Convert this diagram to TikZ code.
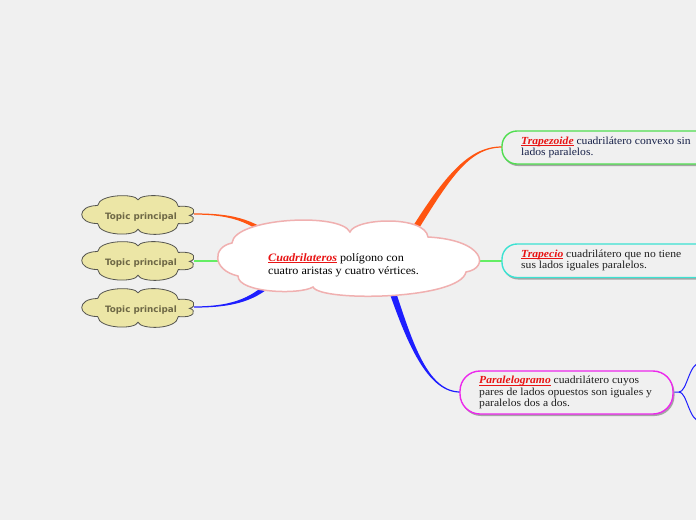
\documentclass[tikz,border=0pt]{standalone}
\usepackage{fontspec}
\setmainfont[FakeStretch=1.075]{Liberation Serif}
\newfontfamily\topicfont{DejaVu Sans}
\usetikzlibrary{calc}
\definecolor{bg}{RGB}{240,240,240}
\definecolor{cloudline}{RGB}{240,176,176}
\definecolor{topicfill}{RGB}{236,230,166}
\definecolor{topicline}{RGB}{85,85,80}
\definecolor{topictxt}{RGB}{110,104,70}
\definecolor{corange}{RGB}{255,85,17}
\definecolor{cgreen}{RGB}{100,238,100}
\definecolor{bgreen}{RGB}{80,222,80}
\definecolor{bcyan}{RGB}{60,226,210}
\definecolor{bmag}{RGB}{236,40,236}
\definecolor{cblue}{RGB}{30,30,255}
\definecolor{lred}{RGB}{232,20,20}
\definecolor{navy}{RGB}{22,32,72}
\definecolor{shadowc}{RGB}{165,165,165}
\newcommand\lbl[1]{{\color{lred}\bfseries\itshape\setbox0\hbox{#1}\rlap{\rule[-1.4pt]{\wd0}{0.7pt}}\box0}}
% tapered connector: colour, P0 (thin), C1, C2, P3 (thick), half width at P0, half width at P3
\newcommand\taper[7]{%
  \path ($(#2)!#6!90:(#3)$) coordinate (ta) ($(#2)!#6!-90:(#3)$) coordinate (tb)
        ($(#5)!#7!-90:(#4)$) coordinate (tc) ($(#5)!#7!90:(#4)$) coordinate (td);
  \fill[#1] (ta) .. controls ($(#3)+(ta)-(#2)$) and ($(#4)+(tc)-(#5)$) .. (tc)
     -- (td) .. controls ($(#4)+(td)-(#5)$) and ($(#3)+(tb)-(#2)$) .. (tb) -- cycle;}
\tikzset{
  topicstyle/.style={fill=topicfill,draw=topicline,line width=0.8pt},
  topictext/.style={font=\topicfont\bfseries\fontsize{8.8}{10}\selectfont,text=topictxt,inner sep=0pt},
  boxtext/.style={align=left,anchor=west,inner sep=0pt,font=\fontsize{10.8}{11.3}\selectfont},
  boxline/.style={fill=bg,line width=1.4pt},
}
\newcommand\topiccloud[2]{%
  \begin{scope}[shift={(#1,#2)},xscale=56,yscale=19]
  \draw[topicstyle] (-0.72,-0.5) .. controls (-0.70,-1.1) and (-0.05,-1.15) .. (0,-0.8)
    .. controls (0.05,-1.15) and (0.70,-1.12) .. (0.72,-0.45)
    .. controls (1.05,-0.55) and (1.05,-0.05) .. (0.92,0.02)
    .. controls (1.05,0.1) and (1.02,0.55) .. (0.72,0.45)
    .. controls (0.70,1.15) and (0.05,1.15) .. (0,0.75)
    .. controls (-0.05,1.15) and (-0.7,1.1) .. (-0.72,0.45)
    .. controls (-1.1,0.45) and (-1.1,-0.5) .. cycle;
  \end{scope}}
\begin{document}
\begin{tikzpicture}[x=1pt,y=-1pt]
\fill[bg] (0,0) rectangle (696,520);
\useasboundingbox (0,0) rectangle (696,520);
\clip (0,0) rectangle (696,520);
% coordinates
\coordinate (t1e) at (194,214);
\coordinate (t2e) at (194,261);
\coordinate (t3e) at (194,307);
\coordinate (cL1) at (282,246);
\coordinate (cL2) at (226,261);
\coordinate (cL3) at (274,280);
\coordinate (cR1) at (405,245);
\coordinate (cR2) at (468,261);
\coordinate (cR3) at (389,282);
\coordinate (trzW) at (502,147);
\coordinate (trcW) at (502,261);
\coordinate (parW) at (460,392);
\coordinate (parE) at (673,392);
\coordinate (brU) at (700,363);
\coordinate (brD) at (700,421);
% connectors
\taper{corange}{t1e}{236,214}{256,222}{cL1}{0.6pt}{2.6pt}
\draw[cgreen,line width=1.3pt] (t2e) -- (cL2);
\taper{cblue}{t3e}{236,307}{255,298}{cL3}{0.6pt}{2.6pt}
\taper{corange}{trzW}{468,147}{446,178}{cR1}{0.6pt}{3.2pt}
\draw[cgreen,line width=1.3pt] (cR2) -- (trcW);
\taper{cblue}{parW}{424,392}{406,330}{cR3}{0.6pt}{3.2pt}
\draw[cblue,line width=1pt] (parE) -- ++(6,0) coordinate (split)
  .. controls (687,392) and (689,363) .. (brU);
\draw[cblue,line width=1pt] (split) .. controls (687,392) and (689,421) .. (brD);
% topic clouds
\topiccloud{138}{215}
\topiccloud{138}{261}
\topiccloud{138}{308}
\node[topictext] (t1) at (141,217) {Topic principal};
\node[topictext] (t2) at (141,263.5) {Topic principal};
\node[topictext] (t3) at (141,310) {Topic principal};
% central cloud
\draw[fill=white,draw=cloudline,line width=1.5pt]
  (232,243) .. controls (234,218) and (340,212) .. (350,232)
  .. controls (355,218) and (425,215) .. (428,237)
  .. controls (485,240) and (490,268) .. (466,272)
  .. controls (460,300) and (320,302) .. (313,287)
  .. controls (300,295) and (238,293) .. (238,276)
  .. controls (212,270) and (212,247) .. cycle;
\node[boxtext,font=\fontsize{11.3}{13}\selectfont] (main) at (268,265.5)
  {\lbl{Cuadrilateros} polígono con\\cuatro aristas y cuatro vértices.};
% boxes
\fill[shadowc,rounded corners=15pt] (503,133) rectangle (720,166);
\draw[boxline,draw=bgreen,rounded corners=15pt] (502,131) rectangle (718,164);
\node[boxtext,text=navy] (trz) at (521,147.5)
  {\lbl{Trapezoide} cuadrilátero convexo sin\\lados paralelos.};
\fill[shadowc,rounded corners=15pt] (503,246) rectangle (720,279.5);
\draw[boxline,draw=bcyan,rounded corners=15pt] (502,244) rectangle (718,277.5);
\node[boxtext,text=black!88] (trc) at (521,260.5)
  {\lbl{Trapecio} cuadrilátero que no tiene\\sus lados iguales paralelos.};
\fill[shadowc,rounded corners=20pt] (461,373) rectangle (674.5,416);
\draw[boxline,draw=bmag,rounded corners=20pt] (460,371) rectangle (673,414);
\node[boxtext,text=black!88] (par) at (479,392.5)
  {\lbl{Paralelogramo} cuadrilátero cuyos\\pares de lados opuestos son iguales y\\paralelos dos a dos.};
\end{tikzpicture}
\end{document}
